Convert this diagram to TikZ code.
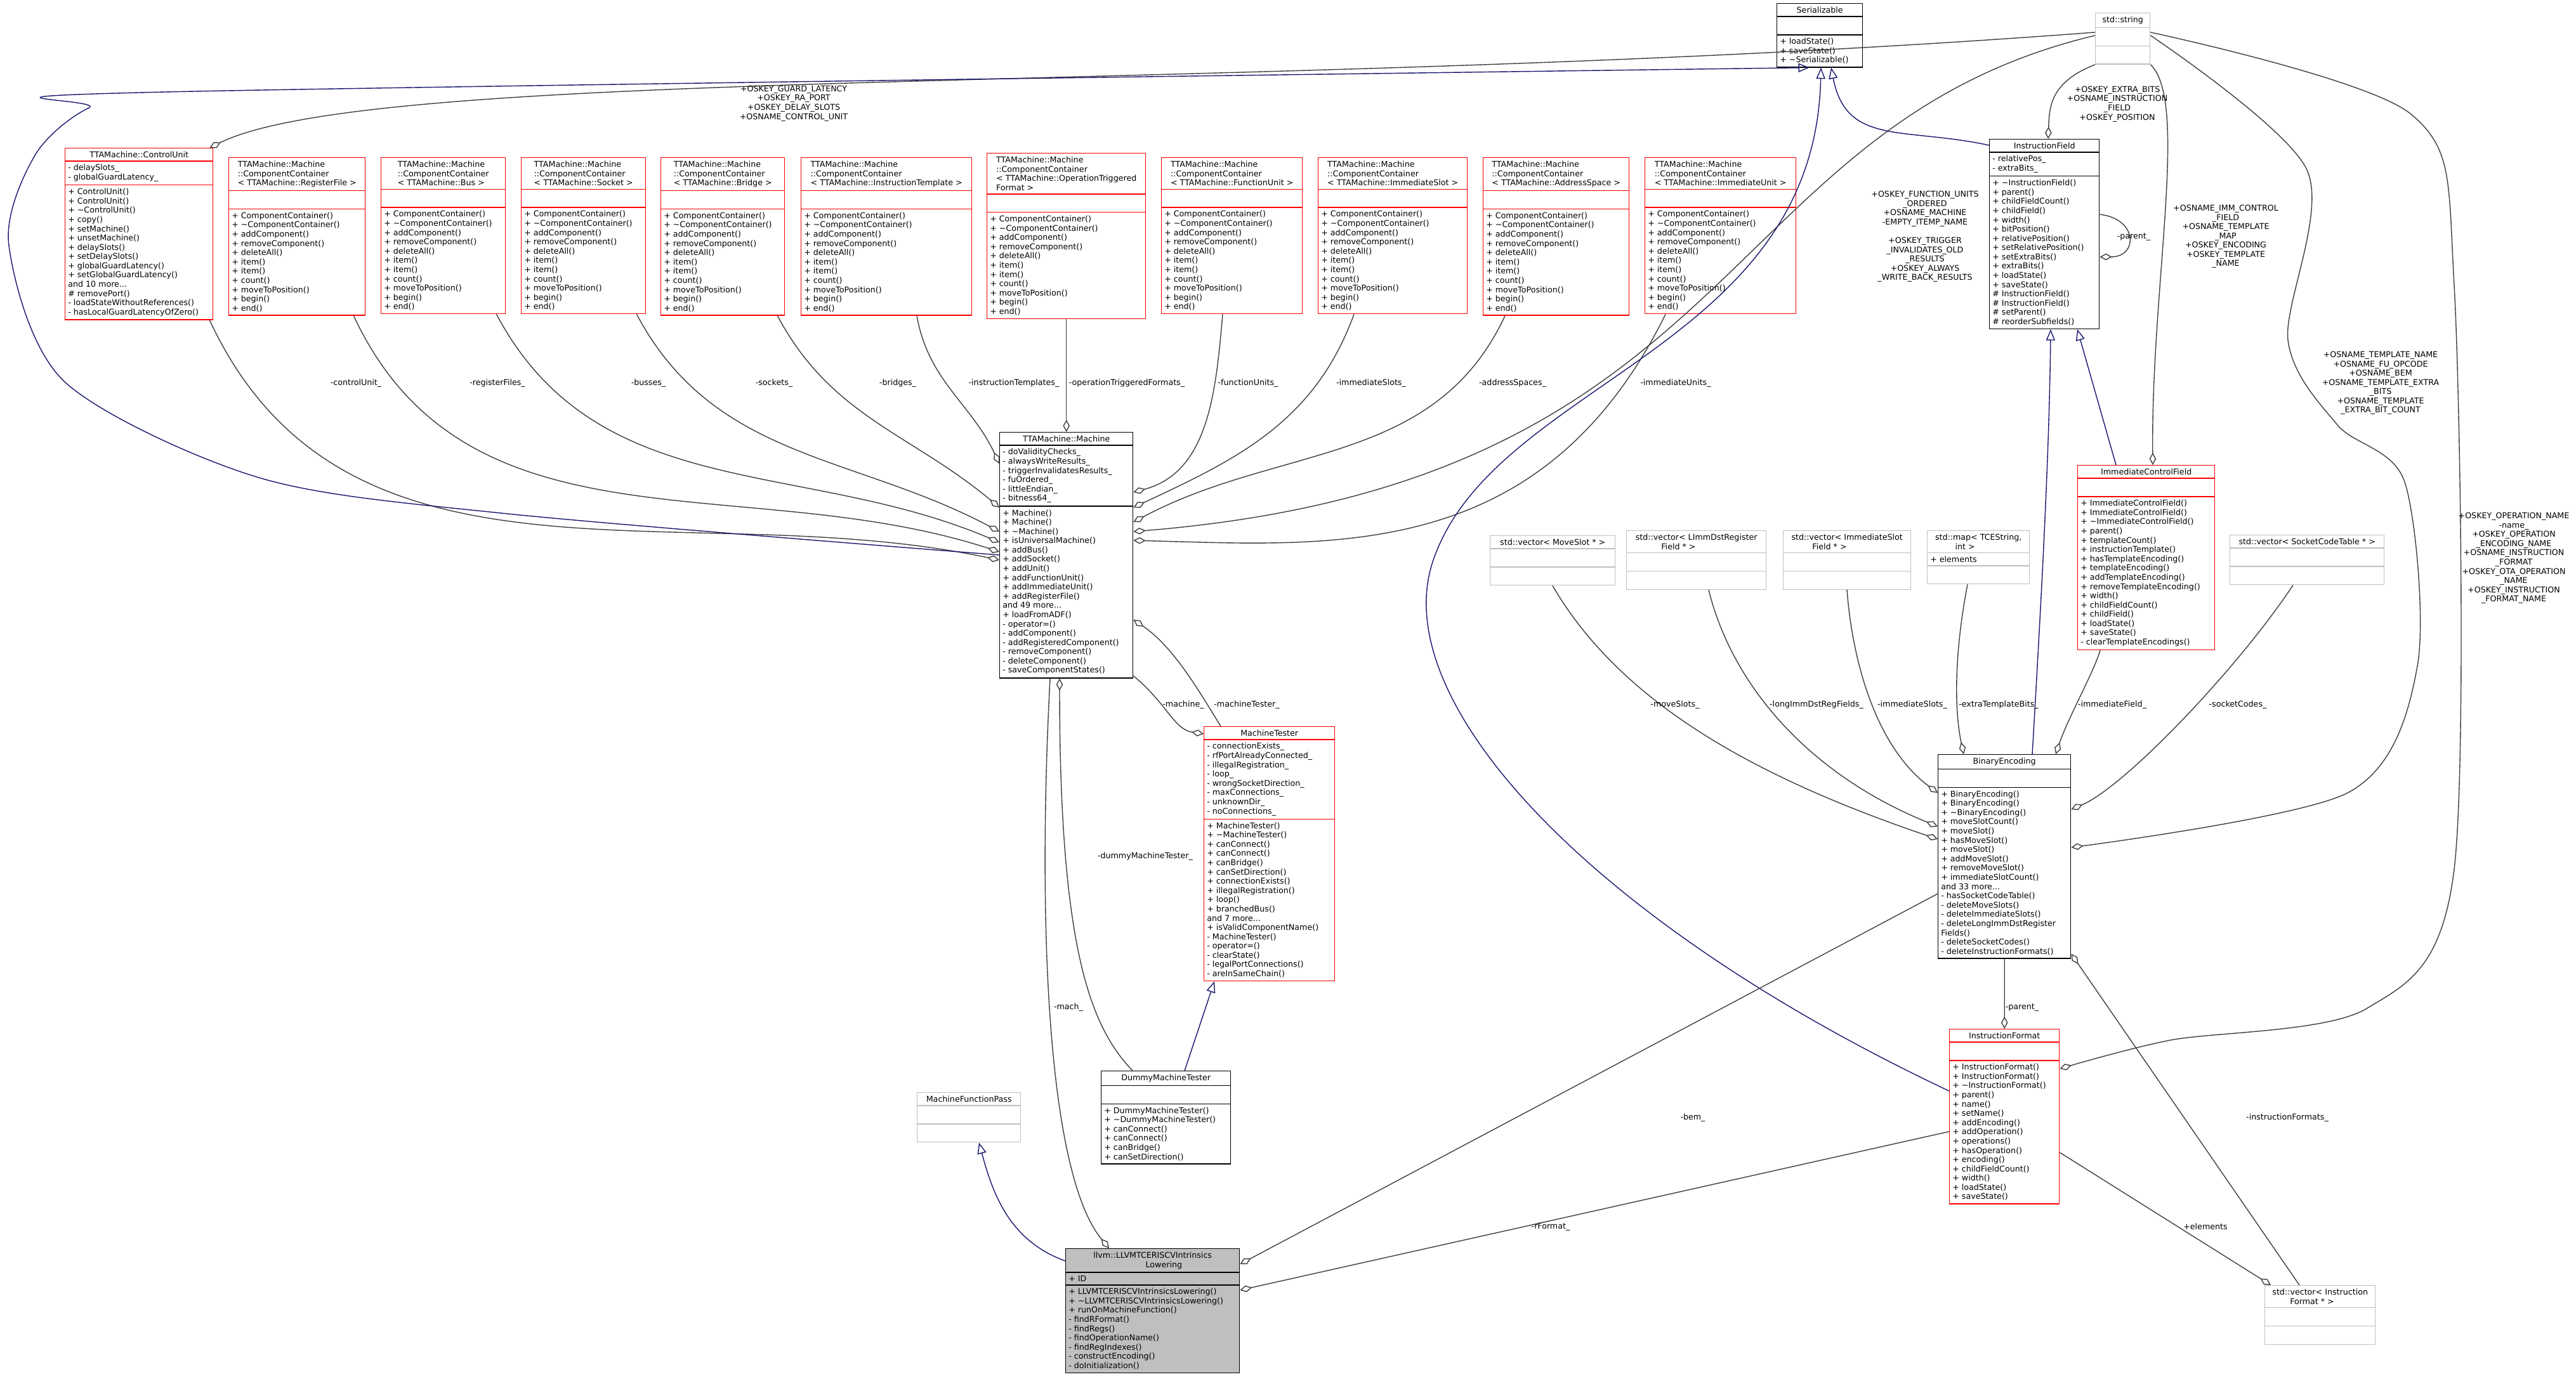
\documentclass[tikz,border=0pt]{standalone}
\usepackage{fontspec}
\setmainfont{DejaVu Sans}
\usetikzlibrary{shapes.multipart, arrows.meta}

\newcommand{\ccmembers}{+ ComponentContainer()\\+ \textasciitilde ComponentContainer()\\+ addComponent()\\+ removeComponent()\\+ deleteAll()\\+ item()\\+ item()\\+ count()\\+ moveToPosition()\\+ begin()\\+ end()}
\newcommand{\emptypart}{\rule{0pt}{5.2pt}}

\begin{document}
\begin{tikzpicture}

    \definecolor{navyline}{RGB}{25,25,112}
    \definecolor{edgegray}{RGB}{64,64,64}
    \definecolor{lightframe}{RGB}{191,191,191}
    \definecolor{boxred}{RGB}{255,0,0}

    \tikzset{%
        classbox/.style = {%
            rectangle split,
            rectangle split parts = 3,
            rectangle split part align = {center, left, left},
            draw,
            fill = white,
            anchor = north west,
            align = left,
            inner sep = 1.3pt,
            font = \fontsize{3.6}{4.15}\selectfont
        },
        redbox/.style = {classbox, draw = boxred},
        graybox/.style = {classbox, draw = lightframe},
        aggline/.style = {draw = edgegray, -{Diamond[open, length = 5.5pt, width = 3pt]}},
        inhline/.style = {draw = navyline, -{Triangle[open, length = 5pt, width = 4pt]}},
        edgelabel/.style = {align = center, inner sep = 0pt, font = \fontsize{3.6}{4.15}\selectfont}
    }

    \useasboundingbox (0, 0) rectangle (40.6, -21.81);

    % classes along the top
    \node[redbox, minimum width = 2.33cm] (cu) at (1.02, -2.33) {TTAMachine::ControlUnit
        \nodepart{two}- delaySlots\_\\- globalGuardLatency\_
        \nodepart{three}+ ControlUnit()\\+ ControlUnit()\\+ \textasciitilde ControlUnit()\\+ copy()\\+ setMachine()\\+ unsetMachine()\\+ delaySlots()\\+ setDelaySlots()\\+ globalGuardLatency()\\+ setGlobalGuardLatency()\\and 10 more...\\\# removePort()\\- loadStateWithoutReferences()\\- hasLocalGuardLatencyOfZero()};
    \node[redbox, minimum width = 2.15cm] (rf) at (3.60, -2.48) {TTAMachine::Machine\\::ComponentContainer\\< TTAMachine::RegisterFile >
        \nodepart{two}\emptypart \nodepart{three}\ccmembers};
    \node[redbox, minimum width = 1.96cm] (bus) at (6.00, -2.48) {TTAMachine::Machine\\::ComponentContainer\\< TTAMachine::Bus >
        \nodepart{two}\emptypart \nodepart{three}\ccmembers};
    \node[redbox, minimum width = 1.96cm] (sock) at (8.21, -2.48) {TTAMachine::Machine\\::ComponentContainer\\< TTAMachine::Socket >
        \nodepart{two}\emptypart \nodepart{three}\ccmembers};
    \node[redbox, minimum width = 1.95cm] (brg) at (10.41, -2.48) {TTAMachine::Machine\\::ComponentContainer\\< TTAMachine::Bridge >
        \nodepart{two}\emptypart \nodepart{three}\ccmembers};
    \node[redbox, minimum width = 2.69cm] (itpl) at (12.62, -2.48) {TTAMachine::Machine\\::ComponentContainer\\< TTAMachine::InstructionTemplate >
        \nodepart{two}\emptypart \nodepart{three}\ccmembers};
    \node[redbox, minimum width = 2.50cm] (otf) at (15.55, -2.41) {TTAMachine::Machine\\::ComponentContainer\\< TTAMachine::OperationTriggered\\Format >
        \nodepart{two}\emptypart \nodepart{three}\ccmembers};
    \node[redbox, minimum width = 2.22cm] (fu) at (18.30, -2.48) {TTAMachine::Machine\\::ComponentContainer\\< TTAMachine::FunctionUnit >
        \nodepart{two}\emptypart \nodepart{three}\ccmembers};
    \node[redbox, minimum width = 2.35cm] (isl) at (20.77, -2.48) {TTAMachine::Machine\\::ComponentContainer\\< TTAMachine::ImmediateSlot >
        \nodepart{two}\emptypart \nodepart{three}\ccmembers};
    \node[redbox, minimum width = 2.30cm] (asp) at (23.37, -2.48) {TTAMachine::Machine\\::ComponentContainer\\< TTAMachine::AddressSpace >
        \nodepart{two}\emptypart \nodepart{three}\ccmembers};
    \node[redbox, minimum width = 2.38cm] (iu) at (25.92, -2.48) {TTAMachine::Machine\\::ComponentContainer\\< TTAMachine::ImmediateUnit >
        \nodepart{two}\emptypart \nodepart{three}\ccmembers};

    \node[classbox, minimum width = 1.35cm] (ser) at (28.00, -0.05) {Serializable
        \nodepart{two}\emptypart \nodepart{three}+ loadState()\\+ saveState()\\+ \textasciitilde Serializable()};
    \node[graybox, minimum width = 0.86cm] (str) at (33.02, -0.20) {std::string
        \nodepart{two}\emptypart \nodepart{three}\emptypart};

    % machine side
    \node[classbox, minimum width = 2.10cm] (mach) at (15.75, -6.81) {TTAMachine::Machine
        \nodepart{two}- doValidityChecks\_\\- alwaysWriteResults\_\\- triggerInvalidatesResults\_\\- fuOrdered\_\\- littleEndian\_\\- bitness64\_
        \nodepart{three}+ Machine()\\+ Machine()\\+ \textasciitilde Machine()\\+ isUniversalMachine()\\+ addBus()\\+ addSocket()\\+ addUnit()\\+ addFunctionUnit()\\+ addImmediateUnit()\\+ addRegisterFile()\\and 49 more...\\+ loadFromADF()\\- operator=()\\- addComponent()\\- addRegisteredComponent()\\- removeComponent()\\- deleteComponent()\\- saveComponentStates()};
    \node[redbox, minimum width = 2.06cm] (mt) at (18.97, -11.45) {MachineTester
        \nodepart{two}- connectionExists\_\\- rfPortAlreadyConnected\_\\- illegalRegistration\_\\- loop\_\\- wrongSocketDirection\_\\- maxConnections\_\\- unknownDir\_\\- noConnections\_
        \nodepart{three}+ MachineTester()\\+ \textasciitilde MachineTester()\\+ canConnect()\\+ canConnect()\\+ canBridge()\\+ canSetDirection()\\+ connectionExists()\\+ illegalRegistration()\\+ loop()\\+ branchedBus()\\and 7 more...\\+ isValidComponentName()\\- MachineTester()\\- operator=()\\- clearState()\\- legalPortConnections()\\- areInSameChain()};
    \node[classbox, minimum width = 2.04cm] (dmt) at (17.35, -16.88) {DummyMachineTester
        \nodepart{two}\emptypart \nodepart{three}+ DummyMachineTester()\\+ \textasciitilde DummyMachineTester()\\+ canConnect()\\+ canConnect()\\+ canBridge()\\+ canSetDirection()};
    \node[graybox, minimum width = 1.63cm] (mfp) at (14.45, -17.22) {MachineFunctionPass
        \nodepart{two}\emptypart \nodepart{three}\emptypart};
    \node[classbox, fill = lightframe, minimum width = 2.74cm] (llvm) at (16.79, -19.68) {llvm::LLVMTCERISCVIntrinsics\\\hspace*{6.5em}Lowering
        \nodepart{two}+ ID
        \nodepart{three}+ LLVMTCERISCVIntrinsicsLowering()\\+ \textasciitilde LLVMTCERISCVIntrinsicsLowering()\\+ runOnMachineFunction()\\- findRFormat()\\- findRegs()\\- findOperationName()\\- findRegIndexes()\\- constructEncoding()\\- doInitialization()};

    % encoding side
    \node[classbox, minimum width = 1.73cm] (ifld) at (31.35, -2.19) {InstructionField
        \nodepart{two}- relativePos\_\\- extraBits\_
        \nodepart{three}+ \textasciitilde InstructionField()\\+ parent()\\+ childFieldCount()\\+ childField()\\+ width()\\+ bitPosition()\\+ relativePosition()\\+ setRelativePosition()\\+ setExtraBits()\\+ extraBits()\\+ loadState()\\+ saveState()\\\# InstructionField()\\\# InstructionField()\\\# setParent()\\\# reorderSubfields()};
    \node[redbox, minimum width = 2.16cm] (icf) at (32.74, -7.33) {ImmediateControlField
        \nodepart{two}\emptypart
        \nodepart{three}+ ImmediateControlField()\\+ ImmediateControlField()\\+ \textasciitilde ImmediateControlField()\\+ parent()\\+ templateCount()\\+ instructionTemplate()\\+ hasTemplateEncoding()\\+ templateEncoding()\\+ addTemplateEncoding()\\+ removeTemplateEncoding()\\+ width()\\+ childFieldCount()\\+ childField()\\+ loadState()\\+ saveState()\\- clearTemplateEncodings()};
    \node[graybox, minimum width = 1.97cm] (vms) at (23.48, -8.44) {std::vector< MoveSlot * >
        \nodepart{two}\emptypart \nodepart{three}\emptypart};
    \node[graybox, minimum width = 2.20cm] (vli) at (25.63, -8.36) {std::vector< LImmDstRegister\\\hspace*{3.2em}Field * >
        \nodepart{two}\emptypart \nodepart{three}\emptypart};
    \node[graybox, minimum width = 2.01cm] (vis) at (28.10, -8.36) {std::vector< ImmediateSlot\\\hspace*{2.6em}Field * >
        \nodepart{two}\emptypart \nodepart{three}\emptypart};
    \node[graybox, minimum width = 1.61cm] (map) at (30.37, -8.36) {std::map< TCEString,\\\hspace*{2.5em}int >
        \nodepart{two}+ elements \nodepart{three}\emptypart};
    \node[graybox, minimum width = 2.43cm] (vsc) at (35.14, -8.43) {std::vector< SocketCodeTable * >
        \nodepart{two}\emptypart \nodepart{three}\emptypart};
    \node[classbox, minimum width = 2.09cm] (be) at (30.54, -11.89) {BinaryEncoding
        \nodepart{two}\emptypart
        \nodepart{three}+ BinaryEncoding()\\+ BinaryEncoding()\\+ \textasciitilde BinaryEncoding()\\+ moveSlotCount()\\+ moveSlot()\\+ hasMoveSlot()\\+ moveSlot()\\+ addMoveSlot()\\+ removeMoveSlot()\\+ immediateSlotCount()\\and 33 more...\\- hasSocketCodeTable()\\- deleteMoveSlots()\\- deleteImmediateSlots()\\- deleteLongImmDstRegister\\Fields()\\- deleteSocketCodes()\\- deleteInstructionFormats()};
    \node[redbox, minimum width = 1.73cm] (ifmt) at (30.72, -16.22) {InstructionFormat
        \nodepart{two}\emptypart
        \nodepart{three}+ InstructionFormat()\\+ InstructionFormat()\\+ \textasciitilde InstructionFormat()\\+ parent()\\+ name()\\+ setName()\\+ addEncoding()\\+ addOperation()\\+ operations()\\+ hasOperation()\\+ encoding()\\+ childFieldCount()\\+ width()\\+ loadState()\\+ saveState()};
    \node[graybox, minimum width = 1.74cm] (vif) at (35.69, -20.26) {std::vector< Instruction\\\hspace*{2.2em}Format * >
        \nodepart{two}\emptypart \nodepart{three}\emptypart};

    % containers owned by the machine
    \draw[aggline] ([xshift = -0.06cm]cu.south east) to[out = -65, in = 168] ([yshift = -2.02cm]mach.north west);
    \draw[aggline] ([xshift = -0.19cm]rf.south east) to[out = -65, in = 162] ([yshift = -1.89cm]mach.north west);
    \draw[aggline] ([xshift = -0.15cm]bus.south east) to[out = -62, in = 157] ([yshift = -1.74cm]mach.north west);
    \draw[aggline] ([xshift = -0.15cm]sock.south east) to[out = -62, in = 152] ([yshift = -1.57cm]mach.north west);
    \draw[aggline] ([xshift = -0.12cm]brg.south east) to[out = -62, in = 140] ([yshift = -1.19cm]mach.north west);
    \draw[aggline] ([xshift = 1.83cm]itpl.south west) to[out = -80, in = 115] ([yshift = -0.50cm]mach.north west);
    \draw[aggline] (otf.south) -- (mach.north);
    \draw[aggline] ([xshift = 0.97cm]fu.south west) to[out = -95, in = 15] ([yshift = -0.95cm]mach.north east);
    \draw[aggline] ([xshift = 0.57cm]isl.south west) to[out = -110, in = 25] ([yshift = -1.19cm]mach.north east);
    \draw[aggline] ([xshift = 0.35cm]asp.south west) to[out = -115, in = 28] ([yshift = -1.42cm]mach.north east);
    \draw[aggline] ([xshift = 0.33cm]iu.south west) .. controls (24.3, -8.9) and (21, -8.6) .. ([yshift = -1.71cm]mach.north east);

    \node[edgelabel] (lcu) at (5.61, -6.04) {-controlUnit\_};
    \node[edgelabel] (lrf) at (7.84, -6.04) {-registerFiles\_};
    \node[edgelabel] (lbus) at (10.22, -6.04) {-busses\_};
    \node[edgelabel] (lsock) at (12.20, -6.04) {-sockets\_};
    \node[edgelabel] (lbrg) at (14.15, -6.04) {-bridges\_};
    \node[edgelabel] (litpl) at (15.98, -6.04) {-instructionTemplates\_};
    \node[edgelabel] (lotf) at (17.76, -6.04) {-operationTriggeredFormats\_};
    \node[edgelabel] (lfu) at (19.67, -6.04) {-functionUnits\_};
    \node[edgelabel] (lisl) at (21.61, -6.04) {-immediateSlots\_};
    \node[edgelabel] (lasp) at (23.84, -6.04) {-addressSpaces\_};
    \node[edgelabel] (liu) at (26.41, -6.04) {-immediateUnits\_};

    % std::string constants
    \draw[aggline] ([yshift = 0.1cm]str.west) .. controls (20, -1.5) and (6, -1.0) .. ([xshift = -0.06cm]cu.north east);
    \draw[aggline] ([yshift = 0.05cm]str.west) .. controls (27, -2) and (27.5, -7.6) .. ([yshift = -1.57cm]mach.north east);
    \draw[aggline] (str.south west) .. controls (32.3, -1.3) and (32.3, -1.7) .. ([xshift = 0.93cm]ifld.north west);
    \draw[aggline] (str.south east) .. controls (34.5, -1.6) and (33.9, -4.5) .. ([xshift = 1.19cm]icf.north west);
    \draw[aggline] plot[smooth] coordinates {([yshift = 0.05cm]str.east) (36.36, -2.68) (36.06, -5.36) (36.84, -6.70) (37.9, -7.6) (38.1, -10.5) (37.0, -12.5) ([yshift = -1.47cm]be.north east)};
    \draw[aggline] plot[smooth] coordinates {([yshift = 0.1cm]str.east) (38.0, -1.8) (38.68, -4.5) (38.68, -13.7) (37.3, -15.9) (34.2, -16.4) ([yshift = -0.63cm]ifmt.north east)};

    \node[edgelabel] (lcustr) at (12.51, -1.63) {+OSKEY\_GUARD\_LATENCY\\+OSKEY\_RA\_PORT\\+OSKEY\_DELAY\_SLOTS\\+OSNAME\_CONTROL\_UNIT};
    \node[edgelabel] (lmachstr) at (30.34, -3.73) {+OSKEY\_FUNCTION\_UNITS\\\_ORDERED\\+OSNAME\_MACHINE\\-EMPTY\_ITEMP\_NAME\\\strut\\+OSKEY\_TRIGGER\\\_INVALIDATES\_OLD\\\_RESULTS\\+OSKEY\_ALWAYS\\\_WRITE\_BACK\_RESULTS};
    \node[edgelabel] (lifldstr) at (33.37, -1.64) {+OSKEY\_EXTRA\_BITS\\+OSNAME\_INSTRUCTION\\\_FIELD\\+OSKEY\_POSITION};
    \node[edgelabel] (licfstr) at (35.08, -3.73) {+OSNAME\_IMM\_CONTROL\\\_FIELD\\+OSNAME\_TEMPLATE\\\_MAP\\+OSKEY\_ENCODING\\+OSKEY\_TEMPLATE\\\_NAME};
    \node[edgelabel] (lbestr) at (37.52, -6.04) {+OSNAME\_TEMPLATE\_NAME\\+OSNAME\_FU\_OPCODE\\+OSNAME\_BEM\\+OSNAME\_TEMPLATE\_EXTRA\\\_BITS\\+OSNAME\_TEMPLATE\\\_EXTRA\_BIT\_COUNT};
    \node[edgelabel] (lifmtstr) at (39.62, -8.80) {+OSKEY\_OPERATION\_NAME\\-name\_\\+OSKEY\_OPERATION\\\_ENCODING\_NAME\\+OSNAME\_INSTRUCTION\\\_FORMAT\\+OSKEY\_OTA\_OPERATION\\\_NAME\\+OSKEY\_INSTRUCTION\\\_FORMAT\_NAME};

    % inheritance
    \draw[inhline] plot[smooth] coordinates {([yshift = -1.94cm]mach.north west) (8.0, -8.1) (4.08, -7.53) (1.02, -6.02) (0.14, -3.87) (0.55, -2.45) (1.4, -1.7) (2.6, -1.45) ([xshift = 0.52cm]ser.south west)};
    \draw[inhline] ([yshift = -0.98cm]ifmt.north west) .. controls (25, -14.5) and (21.8, -11) .. (22.6, -8.8)
        .. controls (23.6, -6) and (28.6, -5.5) .. ([xshift = 0.70cm]ser.south west);
    \draw[inhline] ([yshift = -0.1cm]ifld.north west) .. controls (30, -2.0) and (29.1, -2.3) .. ([xshift = 0.86cm]ser.south west);
    \draw[inhline] ([xshift = 1.49cm]be.north west) .. controls (32.2, -9) and (32.3, -7) .. ([xshift = 0.97cm]ifld.south west);
    \draw[inhline] ([xshift = 0.61cm]icf.north west) -- ([xshift = 1.39cm]ifld.south west);
    \draw[inhline] ([xshift = 1.32cm]dmt.north west) -- ([xshift = 0.17cm]mt.south west);
    \draw[inhline] ([yshift = -0.20cm]llvm.north west) to[out = 160, in = -75] ([xshift = 0.98cm]mfp.south west);

    % self reference of the instruction field
    \draw[aggline] ([yshift = -1.19cm]ifld.north east) .. controls (33.7, -3.45) and (33.7, -4.05) .. ([yshift = -1.86cm]ifld.north east);
    \node[edgelabel] (lifldpar) at (33.63, -3.74) {-parent\_};

    % machine and its testers
    \draw[aggline] ([xshift = 0.27cm]mt.north west) .. controls (18.9, -10.9) and (18.5, -10.2) .. ([yshift = -2.96cm]mach.north east);
    \draw[aggline] ([yshift = 0.04cm]mach.south east) .. controls (18.4, -11.1) and (18.5, -11.5) .. ([yshift = -0.12cm]mt.north west);
    \draw[aggline] ([xshift = 0.50cm]dmt.north west) .. controls (17.2, -16.2) and (16.7, -15) .. ([xshift = 0.95cm]mach.south west);
    \draw[aggline] ([xshift = 0.80cm]mach.south west) .. controls (16.35, -14.5) and (16.5, -18.5) .. ([xshift = 0.69cm]llvm.north west);
    \node[edgelabel] (lmach) at (18.65, -11.11) {-machine\_};
    \node[edgelabel] (lmt) at (19.65, -11.11) {-machineTester\_};
    \node[edgelabel] (ldmt) at (18.05, -13.50) {-dummyMachineTester\_};
    \node[edgelabel] (lmach2) at (16.84, -15.88) {-mach\_};

    % binary encoding members
    \draw[aggline] ([xshift = 0.99cm]vms.south west) .. controls (25.5, -11) and (27.5, -12.2) .. ([yshift = -1.34cm]be.north west);
    \draw[aggline] ([xshift = 1.30cm]vli.south west) .. controls (27.3, -10.8) and (28.5, -12.2) .. ([yshift = -1.14cm]be.north west);
    \draw[aggline] ([xshift = 1.01cm]vis.south west) .. controls (29.2, -10.5) and (29.6, -11.8) .. ([yshift = -0.61cm]be.north west);
    \draw[aggline] ([xshift = 0.64cm]map.south west) .. controls (30.8, -10.3) and (30.8, -11.2) .. ([xshift = 0.41cm]be.north west);
    \draw[aggline] ([xshift = 0.36cm]icf.south west) .. controls (33.0, -10.6) and (32.6, -11.3) .. ([xshift = 1.86cm]be.north west);
    \draw[aggline] ([xshift = 1.0cm]vsc.south west) .. controls (35.3, -10.5) and (33.5, -12.4) .. ([yshift = -0.87cm]be.north east);
    \node[edgelabel] (lvms) at (26.40, -11.11) {-moveSlots\_};
    \node[edgelabel] (lvli) at (28.63, -11.11) {-longImmDstRegFields\_};
    \node[edgelabel] (lvis) at (30.14, -11.11) {-immediateSlots\_};
    \node[edgelabel] (lmap) at (31.50, -11.11) {-extraTemplateBits\_};
    \node[edgelabel] (licf) at (33.29, -11.11) {-immediateField\_};
    \node[edgelabel] (lvsc) at (35.27, -11.11) {-socketCodes\_};

    \draw[aggline] (be.south) -- (ifmt.north);
    \node[edgelabel] (lbepar) at (31.87, -15.89) {-parent\_};
    \draw[aggline] ([xshift = 0.55cm]vif.north west) -- ([yshift = 0.08cm]be.south east);
    \node[edgelabel] (lvif) at (36.05, -17.62) {-instructionFormats\_};
    \draw[aggline] ([yshift = -1.95cm]ifmt.north east) -- ([xshift = 0.10cm]vif.north west);
    \node[edgelabel] (lelem) at (34.76, -19.34) {+elements};

    % members of the pass
    \draw[aggline] ([yshift = -2.20cm]be.north west) -- ([yshift = -0.25cm]llvm.north east);
    \node[edgelabel] (lbem) at (26.68, -17.62) {-bem\_};
    \draw[aggline] ([yshift = -1.62cm]ifmt.north west) -- ([yshift = -0.66cm]llvm.north east);
    \node[edgelabel] (lrfmt) at (24.44, -19.34) {-rFormat\_};

\end{tikzpicture}
\end{document}
